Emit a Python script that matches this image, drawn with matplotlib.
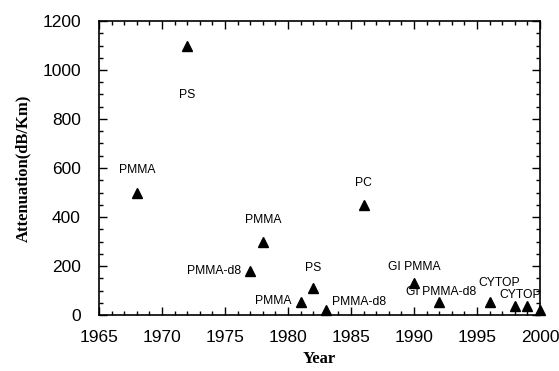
import matplotlib
matplotlib.use("Agg")
import matplotlib.pyplot as plt
from matplotlib.ticker import MultipleLocator

years = [1968, 1972, 1977, 1978, 1981, 1982, 1983, 1986, 1990, 1992, 1996, 1998, 1999, 2000]
atten = [500, 1100, 180, 300, 55, 110, 20, 450, 130, 55, 55, 35, 35, 20]

labels = ["PMMA", "PS", "PMMA-d8", "PMMA", "PMMA", "PS", "PMMA-d8", "PC",
          "GI PMMA", "GI PMMA-d8", "CYTOP", "CYTOP"]
label_x = [1968, 1972, 1976.3, 1978, 1980.3, 1982, 1983.5, 1986, 1990, 1989.4, 1996.8, 1996.8]
label_y = [592, 898, 180, 388, 57, 192, 53, 539, 196, 94, 131, 82]
label_ha = ["center", "center", "right", "center", "right", "center", "left", "center",
            "center", "left", "center", "left"]

fig = plt.figure(figsize=(5.59, 3.71), dpi=100)
ax = fig.add_axes([99/559, 1-315/371, (540-99)/559, (315-21)/371])

ax.plot(years, atten, linestyle="none", marker="^", color="black", markersize=7, clip_on=False)

for t, x, y, ha in zip(labels, label_x, label_y, label_ha):
    ax.text(x, y, t, ha=ha, va="center", fontsize=8.7, family="Liberation Sans", clip_on=True)

ax.set_xlim(1965, 2000)
ax.set_ylim(0, 1200)
ax.xaxis.set_major_locator(MultipleLocator(5))
ax.xaxis.set_minor_locator(MultipleLocator(1))
ax.yaxis.set_major_locator(MultipleLocator(200))
ax.yaxis.set_minor_locator(MultipleLocator(50))
ax.tick_params(which="both", direction="in", top=True, right=True, width=1)
ax.tick_params(which="major", length=6, labelsize=12.5)
ax.tick_params(axis="x", which="major", pad=11)
ax.tick_params(axis="y", which="major", pad=13)
ax.tick_params(which="minor", length=3)
for lab in ax.get_xticklabels() + ax.get_yticklabels():
    lab.set_family("Liberation Sans")
for s in ax.spines.values():
    s.set_linewidth(1.2)

ax.set_xlabel("Year", fontsize=12, fontweight="bold", family="Liberation Serif", labelpad=4)
ax.set_ylabel("Attenuation(dB/Km)", fontsize=12, fontweight="bold", family="Liberation Serif", labelpad=8)

fig.savefig("out.png", dpi=100)
